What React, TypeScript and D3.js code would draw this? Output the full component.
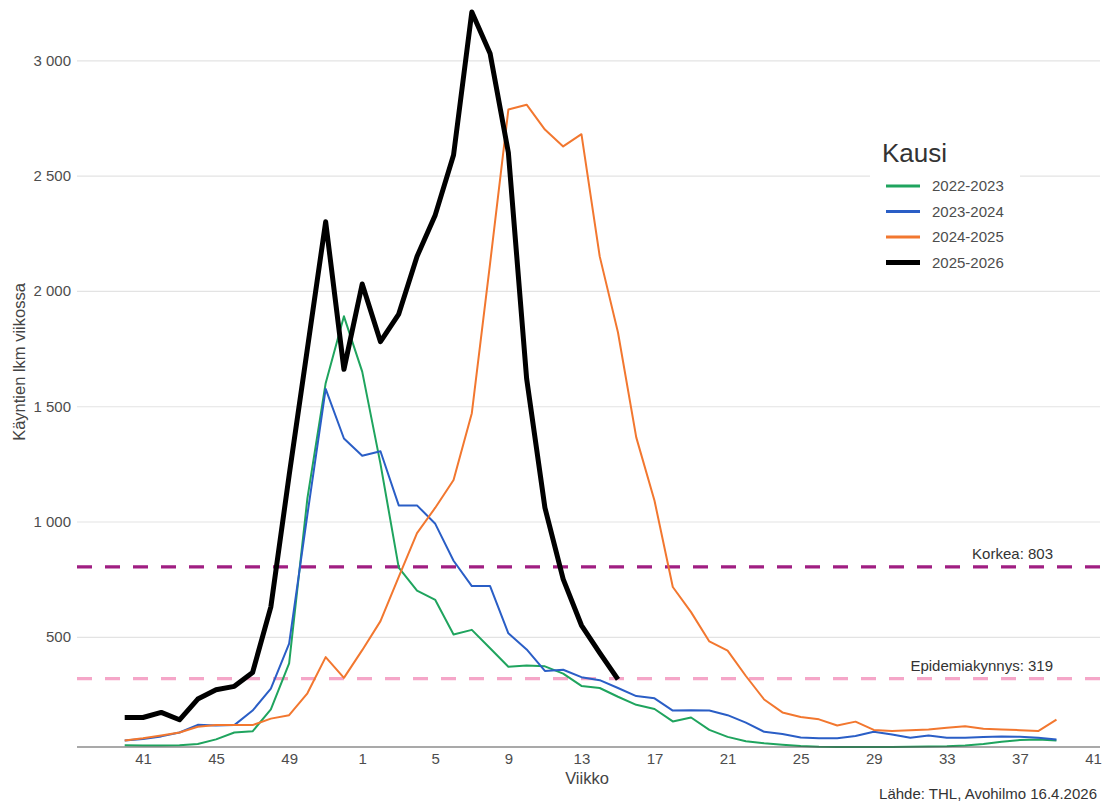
import { useEffect, useRef } from "react";
import * as d3 from "d3";

// season weeks 40..52, 1..39
const WEEKS = [
  40, 41, 42, 43, 44, 45, 46, 47, 48, 49, 50, 51, 52,
  1, 2, 3, 4, 5, 6, 7, 8, 9, 10, 11, 12, 13, 14, 15, 16, 17, 18, 19, 20,
  21, 22, 23, 24, 25, 26, 27, 28, 29, 30, 31, 32, 33, 34, 35, 36, 37, 38, 39,
];

const S_2022_2023 = [
  30, 28, 28, 30, 35, 55, 85, 90, 185, 385, 1100, 1600, 1890,
  1650, 1250, 800, 700, 660, 510, 530, 450, 370, 375, 372, 340, 287, 278, 240, 205, 187, 133, 150, 96,
  66, 47, 38, 32, 26, 23, 22, 22, 22, 22, 23, 24, 25, 28, 35, 45, 52, 55, 50,
];

const S_2023_2024 = [
  50, 57, 68, 85, 118, 115, 117, 180, 275, 470, 1030, 1575, 1360,
  1285, 1305, 1070, 1070, 990, 830, 720, 720, 515, 445, 352, 357, 325, 312, 278, 243, 233, 180, 181, 180,
  160, 128, 88, 78, 63, 60, 60, 70, 88, 76, 62, 72, 62, 62, 65, 68, 66, 62, 55,
];

const S_2024_2025 = [
  50, 60, 72, 85, 110, 117, 117, 117, 145, 160, 255, 412, 322,
  442, 568, 760, 950, 1060, 1180, 1470, 2120, 2787, 2808, 2700, 2627, 2680, 2150, 1820, 1365, 1090, 716, 607, 480,
  440, 330, 228, 172, 152, 142, 115, 132, 96, 91, 95, 98, 105, 112, 101, 98, 95, 91, 141,
];

// current season, up to week 15
const S_2025_2026 = [
  150, 150, 172, 140, 230, 270, 285, 345, 630, 1200, 1750, 2300, 1660,
  2030, 1780, 1900, 2150, 2330, 2590, 3210, 3030, 2600, 1620, 1060, 750, 550, 430, 315,
];

const SEASONS = ["2022-2023", "2023-2024", "2024-2025", "2025-2026"];
const SERIES = [S_2022_2023, S_2023_2024, S_2024_2025, S_2025_2026];
const COLORS = ["#1fa45e", "#2a5ec6", "#f2772f", "#000000"];
const LINE_W = [2, 2, 2, 5];

const Y_TICKS = [500, 1000, 1500, 2000, 2500, 3000];
const X_TICK_LABELS = [41, 45, 49, 1, 5, 9, 13, 17, 21, 25, 29, 33, 37, 41];

const LEVEL_LABELS = ["Korkea", "Epidemiakynnys"];
const LEVEL_VALUES = [803, 319];
const LEVEL_COLORS = ["#a01e82", "#f5a6c8"];

const FONT = "'Liberation Sans', Arial, sans-serif";

export default function App() {
  const svgRef = useRef<SVGSVGElement>(null);

  useEffect(() => {
    if (!svgRef.current) return;
    const W = 1102;
    const H = 805;
    const left = 77;
    const right = 1100;
    const bottom = 747;

    const svg = d3.select(svgRef.current);
    svg.selectAll("*").remove();
    svg.attr("width", W).attr("height", H);

    svg.append("rect").attr("width", W).attr("height", H).attr("fill", "#fff");

    const maxVal = d3.max(SERIES.flat()) as number;
    const x = d3.scaleLinear().domain([0, 53]).range([124.7, 1093]);
    const y = d3.scaleLinear().domain([22, maxVal]).range([bottom, 12]);

    const fmt = d3.formatLocale({
      decimal: ",",
      thousands: "\u00a0",
      grouping: [3],
      currency: ["", "€"],
    }).format(",");

    // Grid
    svg.append("g")
      .attr("transform", `translate(${left},0)`)
      .call(d3.axisLeft(y).tickValues(Y_TICKS).tickSize(-(right - left)).tickFormat(() => ""))
      .call((g) => g.select(".domain").remove())
      .call((g) => g.selectAll(".tick line").attr("stroke", "#e3e3e3").attr("stroke-width", 1.2));

    // Y labels
    svg.append("g")
      .attr("transform", `translate(${left},0)`)
      .call(d3.axisLeft(y).tickValues(Y_TICKS).tickSize(0).tickPadding(6).tickFormat((d) => fmt(Number(d))))
      .call((g) => g.select(".domain").remove())
      .call((g) => g.selectAll(".tick text")
        .attr("fill", "#4d4d4d").attr("font-size", "15px").attr("font-family", FONT));

    // Threshold lines
    LEVEL_VALUES.forEach((v, i) => {
      svg.append("line")
        .attr("x1", left).attr("x2", right)
        .attr("y1", y(v)).attr("y2", y(v))
        .attr("stroke", LEVEL_COLORS[i])
        .attr("stroke-width", 3.2)
        .attr("stroke-dasharray", "15,13");
      svg.append("text")
        .attr("x", 1053).attr("y", y(v) - 8)
        .attr("text-anchor", "end")
        .attr("fill", "#333")
        .attr("font-size", "15px")
        .attr("font-family", FONT)
        .text(`${LEVEL_LABELS[i]}: ${v}`);
    });

    // Lines
    const line = d3.line<number>()
      .x((_, i) => x(i))
      .y((d) => y(d));

    SERIES.forEach((s, i) => {
      svg.append("path")
        .datum(s)
        .attr("fill", "none")
        .attr("stroke", COLORS[i])
        .attr("stroke-width", LINE_W[i])
        .attr("stroke-linejoin", "round")
        .attr("d", line);
    });

    // X axis
    svg.append("line")
      .attr("x1", left).attr("x2", right)
      .attr("y1", bottom).attr("y2", bottom)
      .attr("stroke", "#555").attr("stroke-width", 1.2);

    svg.append("g")
      .attr("transform", `translate(0,${bottom})`)
      .call(d3.axisBottom(x)
        .tickValues(X_TICK_LABELS.map((_, i) => i * 4 + 1))
        .tickSize(0).tickPadding(6)
        .tickFormat((_, i) => `${X_TICK_LABELS[i]}`))
      .call((g) => g.select(".domain").remove())
      .call((g) => g.selectAll(".tick text")
        .attr("fill", "#4d4d4d").attr("font-size", "15px").attr("font-family", FONT));

    // Axis titles
    svg.append("text")
      .attr("x", 587).attr("y", 784)
      .attr("text-anchor", "middle")
      .attr("fill", "#444").attr("font-size", "16.5px").attr("font-family", FONT)
      .text("Viikko");

    svg.append("text")
      .attr("transform", `translate(25,362) rotate(-90)`)
      .attr("text-anchor", "middle")
      .attr("fill", "#444").attr("font-size", "16.5px").attr("font-family", FONT)
      .text("Käyntien lkm viikossa");

    svg.append("text")
      .attr("x", 1097).attr("y", 799)
      .attr("text-anchor", "end")
      .attr("fill", "#333").attr("font-size", "15px").attr("font-family", FONT)
      .text("Lähde: THL, Avohilmo 16.4.2026");

    // Legend
    const lg = svg.append("g").attr("transform", "translate(870,130)");
    lg.append("rect").attr("width", 150).attr("height", 145).attr("fill", "#fff");
    lg.append("text")
      .attr("x", 12).attr("y", 32)
      .attr("fill", "#333").attr("font-size", "26px").attr("font-family", FONT)
      .text("Kausi");
    SEASONS.forEach((s, i) => {
      const cy = 56 + i * 25.5;
      lg.append("line")
        .attr("x1", 16).attr("x2", 50)
        .attr("y1", cy).attr("y2", cy)
        .attr("stroke", COLORS[i])
        .attr("stroke-width", i === 3 ? 5 : 3);
      lg.append("text")
        .attr("x", 62).attr("y", cy + 5)
        .attr("fill", "#4d4d4d").attr("font-size", "15px").attr("font-family", FONT)
        .text(s);
    });
  }, []);

  return (
    <svg
      ref={svgRef}
      style={{ position: "absolute", left: 0, top: 0, display: "block" }}
    />
  );
}
